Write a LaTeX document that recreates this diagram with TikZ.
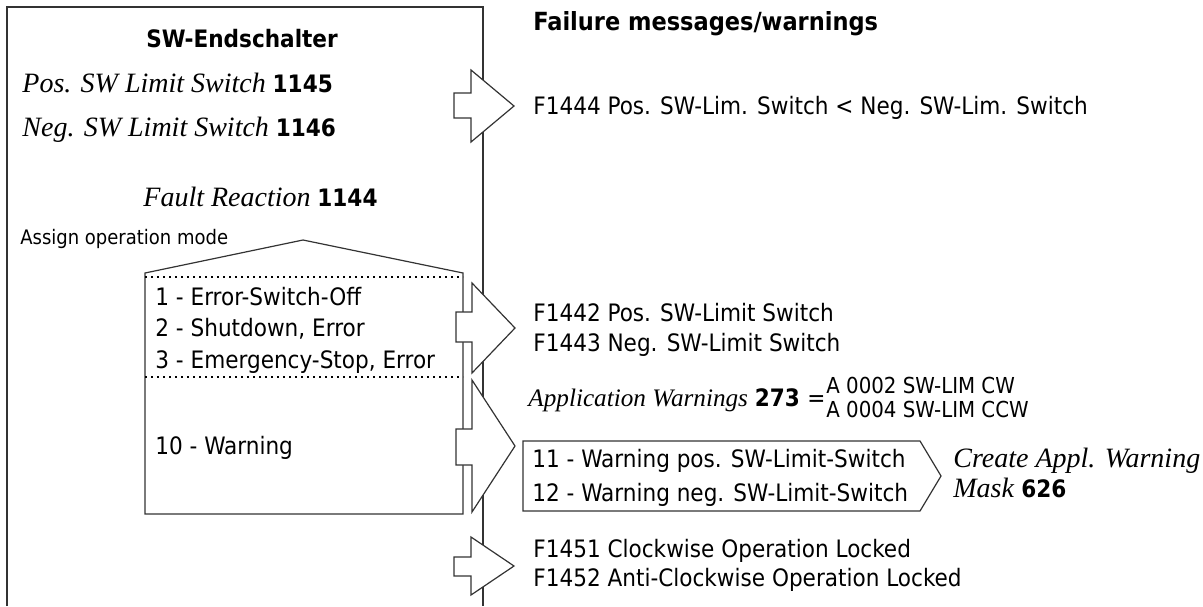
\documentclass[tikz,border=0pt]{standalone}
\usepackage{fontspec}
\setmainfont{DejaVu Sans Condensed}
\newfontfamily\tmsfont{Liberation Serif}
\newcommand{\prm}[2]{{\tmsfont\itshape\fontsize{14}{16}\selectfont #1} \textbf{#2}}

\tikzset{
  txt/.style={anchor=base west, inner sep=0pt, font=\fontsize{12}{14}\selectfont},
  smalltxt/.style={txt, font=\fontsize{10}{12}\selectfont},
  codetxt/.style={txt, font=\fontsize{11}{13}\selectfont},
  frame/.style={line width=0.6pt, draw=black!80},
  fatarrow/.style={frame, fill=white},
  dotline/.style={line width=0.8pt, dash pattern=on 0.8pt off 2.2pt},
}

\begin{document}
\begin{tikzpicture}[x=0.5pt,y=-0.5pt]
  \useasboundingbox (0,0) rectangle (1203,606);
  % left frame, open at the bottom
  \draw[frame] (7,606) -- (7,7) -- (483,7) -- (483,606);
  % operation mode selector
  \draw[frame] (145,514) -- (145,273) -- (303,240) -- (463,273) -- (463,514) -- cycle;
  \draw[dotline] (145,277) -- (463,277);
  \draw[dotline] (145,377) -- (463,377);
  % block arrows
  \draw[fatarrow] (454,93) -- (471,93) -- (471,70) -- (514,106) -- (471,142) -- (471,118) -- (454,118) -- cycle;
  \draw[fatarrow] (456,312) -- (472,312) -- (472,283) -- (515,328) -- (472,373) -- (472,342) -- (456,342) -- cycle;
  \draw[fatarrow] (456,429) -- (472,429) -- (472,380) -- (515,446) -- (472,512) -- (472,465) -- (456,465) -- cycle;
  \draw[fatarrow] (454,557) -- (471,557) -- (471,537) -- (514,566) -- (471,595) -- (471,576) -- (454,576) -- cycle;
  % warning box
  \draw[frame] (523,441) -- (920,441) -- (941,476) -- (920,511) -- (523,511) -- cycle;

  \node[txt, anchor=base] (title) at (242,47) {\textbf{SW-Endschalter}};
  \node[txt] (pos) at (22,92) {\prm{Pos. SW Limit Switch}{1145}};
  \node[txt] (neg) at (22,136) {\prm{Neg. SW Limit Switch}{1146}};
  \node[txt] (fault) at (143,206) {\prm{Fault Reaction}{1144}};
  \node[smalltxt] (assign) at (20,244) {Assign operation mode};
  \node[txt] (m1) at (155,305) {1 - Error-Switch-Off};
  \node[txt] (m2) at (155,336) {2 - Shutdown, Error};
  \node[txt] (m3) at (155,368) {3 - Emergency-Stop, Error};
  \node[txt] (m10) at (155,454) {10 - Warning};

  \node[txt] (fail) at (533,30) {\fontsize{12.5}{14}\selectfont\textbf{Failure messages/warnings}};
  \node[txt] (f1444) at (533,114) {F1444 Pos. SW-Lim. Switch < Neg. SW-Lim. Switch};
  \node[txt] (f1442) at (533,321) {F1442 Pos. SW-Limit Switch};
  \node[txt] (f1443) at (533,351) {F1443 Neg. SW-Limit Switch};
  \node[txt] (appw) at (528,406) {{\tmsfont\itshape\fontsize{12.6}{14}\selectfont Application Warnings} \textbf{273}};
  \node[txt] (eq) at (807,406) {=};
  \node[codetxt] (a2) at (826,393) {A 0002 SW-LIM CW};
  \node[codetxt] (a4) at (826,417) {A 0004 SW-LIM CCW};
  \node[txt] (w11) at (532,467) {11 - Warning pos. SW-Limit-Switch};
  \node[txt] (w12) at (532,501) {12 - Warning neg. SW-Limit-Switch};
  \node[txt] (mask1) at (953,467) {{\tmsfont\itshape\fontsize{14}{16}\selectfont Create Appl. Warning}};
  \node[txt] (mask2) at (953,497) {\prm{Mask}{626}};
  \node[txt] (f1451) at (533,557) {F1451 Clockwise Operation Locked};
  \node[txt] (f1452) at (533,586) {F1452 Anti-Clockwise Operation Locked};
\end{tikzpicture}
\end{document}
